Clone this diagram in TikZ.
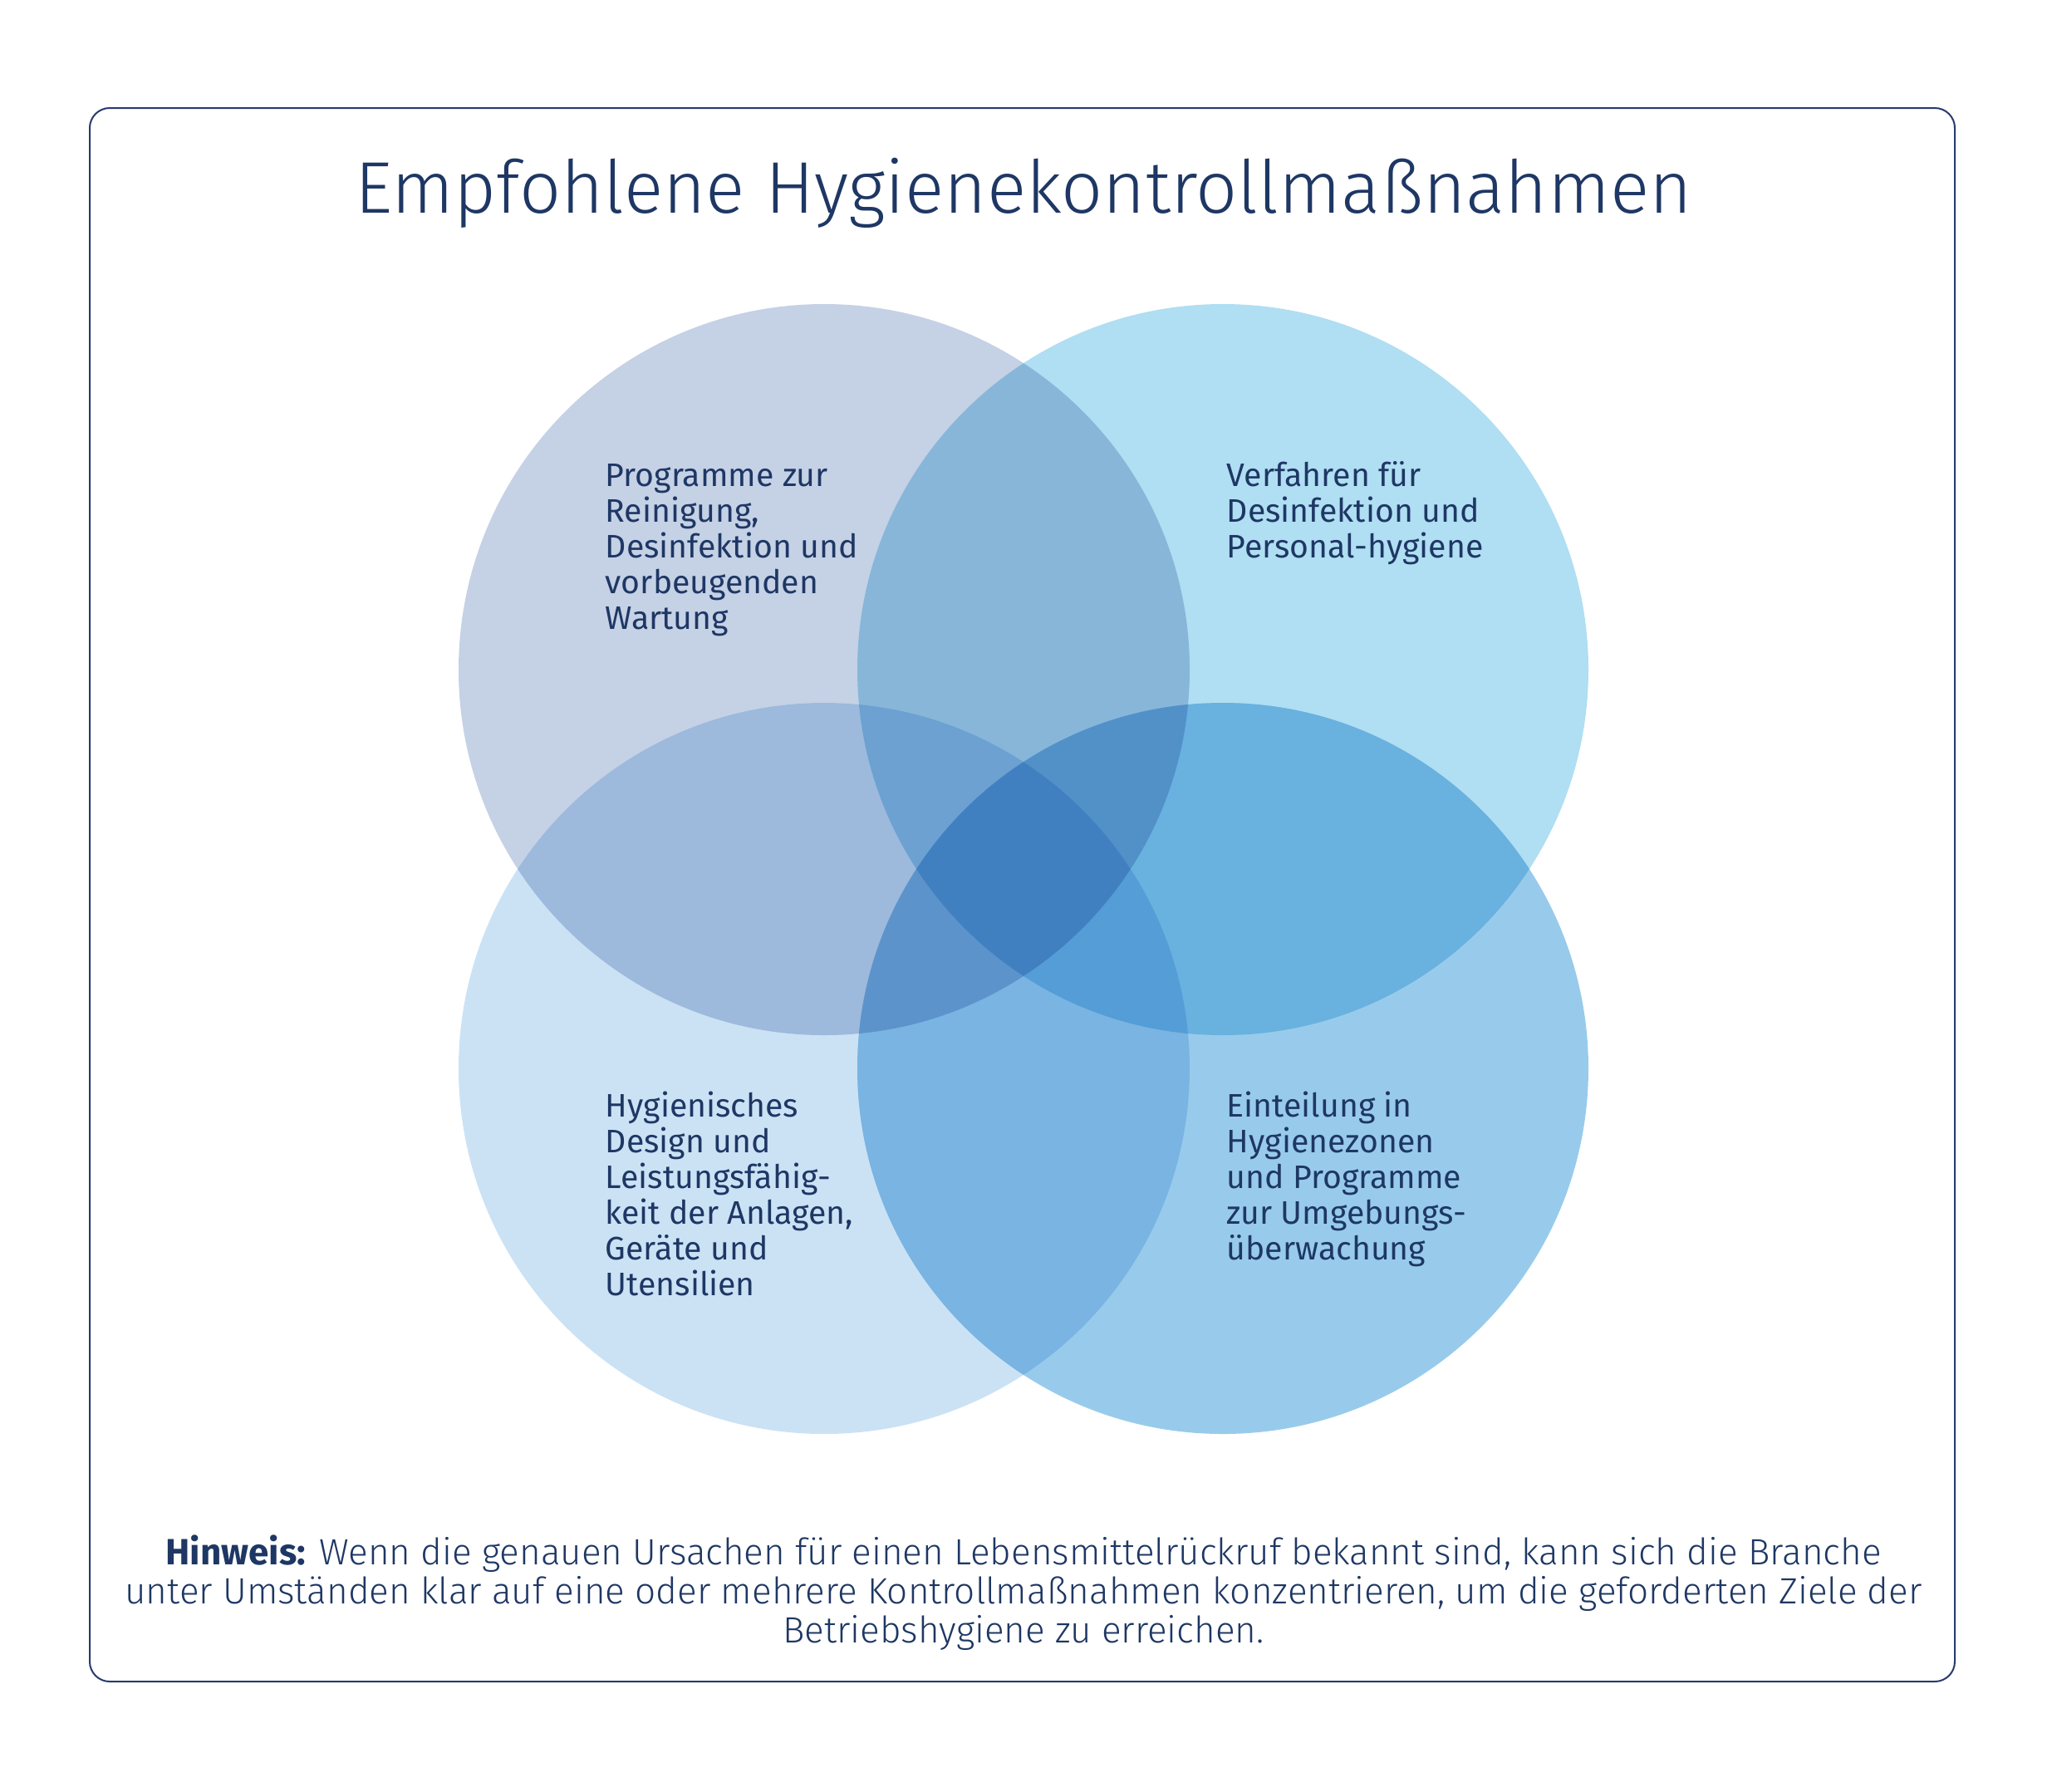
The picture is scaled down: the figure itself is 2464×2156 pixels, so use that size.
\documentclass[tikz,border=0pt]{standalone}
\usepackage{fontspec}
\setmainfont{Fira Sans}
\newfontfamily\firalight{Fira Sans Light}
\definecolor{navy}{RGB}{30,55,100}
\definecolor{framec}{RGB}{40,58,112}
\definecolor{cA}{RGB}{197,209,229}
\definecolor{cB}{RGB}{176,222,242}
\definecolor{cC}{RGB}{203,226,245}
\definecolor{cD}{RGB}{152,203,235}
\definecolor{cAB}{RGB}{136,182,217}
\definecolor{cAC}{RGB}{157,185,220}
\definecolor{cAD}{RGB}{117,166,211}
\definecolor{cBC}{RGB}{140,197,233}
\definecolor{cBD}{RGB}{105,177,223}
\definecolor{cCD}{RGB}{121,180,226}
\definecolor{cABC}{RGB}{108,161,209}
\definecolor{cABD}{RGB}{81,145,200}
\definecolor{cACD}{RGB}{93,147,203}
\definecolor{cBCD}{RGB}{84,157,214}
\definecolor{cABCD}{RGB}{65,128,192}
\tikzset{
  lbl/.style={anchor=base west, inner sep=0pt, text=navy, font=\fontsize{9.8}{10.75}\selectfont},
  ttl/.style={anchor=base, inner sep=0pt, text=navy, font=\firalight\fontsize{22}{26}\selectfont},
  note/.style={anchor=base, inner sep=0pt, text=navy, font=\firalight\fontsize{11}{11.75}\selectfont},
  frm/.style={draw=framec, line width=0.5pt, rounded corners=6pt}
}
\newcommand{\cirA}{(992,806) circle[radius=440]}
\newcommand{\cirB}{(1472,806) circle[radius=440]}
\newcommand{\cirC}{(992,1286) circle[radius=440]}
\newcommand{\cirD}{(1472,1286) circle[radius=440]}
\begin{document}
\begin{tikzpicture}[x=0.25pt,y=-0.25pt]
\useasboundingbox (0,0) rectangle (2464,2156);
\fill[white] (0,0) rectangle (2464,2156);
\draw[frm] (108,130) rectangle (2353,2024);
% single circles
\fill[cA] \cirA;
\fill[cB] \cirB;
\fill[cC] \cirC;
\fill[cD] \cirD;
% pairs
\begin{scope}\clip \cirA; \fill[cAB] \cirB; \end{scope}
\begin{scope}\clip \cirA; \fill[cAC] \cirC; \end{scope}
\begin{scope}\clip \cirA; \fill[cAD] \cirD; \end{scope}
\begin{scope}\clip \cirB; \fill[cBC] \cirC; \end{scope}
\begin{scope}\clip \cirB; \fill[cBD] \cirD; \end{scope}
\begin{scope}\clip \cirC; \fill[cCD] \cirD; \end{scope}
% triples
\begin{scope}\clip \cirA; \clip \cirB; \fill[cABC] \cirC; \end{scope}
\begin{scope}\clip \cirA; \clip \cirB; \fill[cABD] \cirD; \end{scope}
\begin{scope}\clip \cirA; \clip \cirC; \fill[cACD] \cirD; \end{scope}
\begin{scope}\clip \cirB; \clip \cirC; \fill[cBCD] \cirD; \end{scope}
% all four
\begin{scope}\clip \cirA; \clip \cirB; \clip \cirC; \fill[cABCD] \cirD; \end{scope}
% title
\node[ttl] (title) at (1232,256) {Empfohlene Hygienekontrollmaßnahmen};
% labels
\node[lbl] (tl) at (728,585) {\vtop{\hbox{Programme zur}\hbox{Reinigung,}\hbox{Desinfektion und}\hbox{vorbeugenden}\hbox{Wartung}}};
\node[lbl] (tr) at (1476,585) {\vtop{\hbox{Verfahren für}\hbox{Desinfektion und}\hbox{Personal-hygiene}}};
\node[lbl] (bl) at (728,1344) {\vtop{\hbox{Hygienisches}\hbox{Design und}\hbox{Leistungsfähig-}\hbox{keit der Anlagen,}\hbox{Geräte und}\hbox{Utensilien}}};
\node[lbl] (br) at (1476,1344) {\vtop{\hbox{Einteilung in}\hbox{Hygienezonen}\hbox{und Programme}\hbox{zur Umgebungs-}\hbox{überwachung}}};
% note
\node[note] (n1) at (1232,1883) {{\normalfont\bfseries Hinweis:} Wenn die genauen Ursachen für einen Lebensmittelrückruf bekannt sind, kann sich die Branche};
\node[note] (n2) at (1232,1930) {unter Umständen klar auf eine oder mehrere Kontrollmaßnahmen konzentrieren, um die geforderten Ziele der};
\node[note] (n3) at (1232,1977) {Betriebshygiene zu erreichen.};
\end{tikzpicture}
\end{document}
